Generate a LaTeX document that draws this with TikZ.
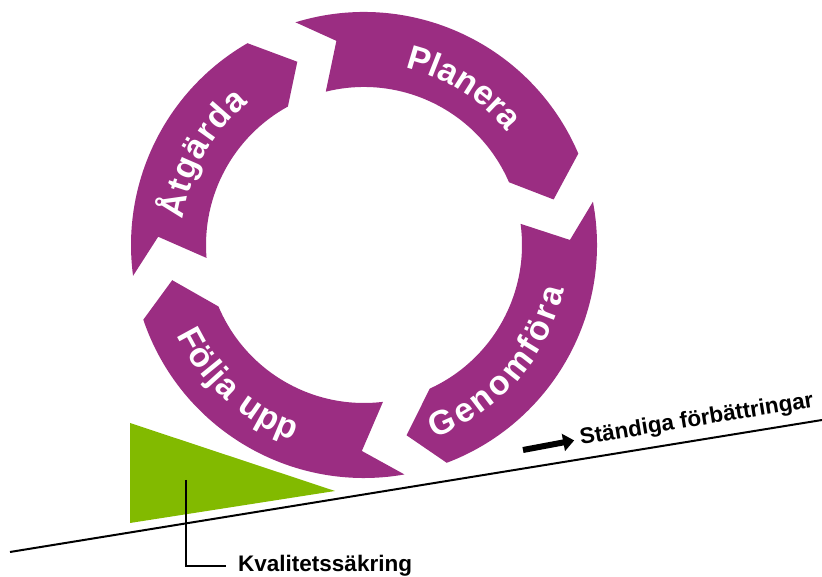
\documentclass[tikz,border=0pt]{standalone}
\usepackage{fontspec}
\setmainfont{Liberation Sans}
\usepackage{tikz}
\usetikzlibrary{arrows.meta,positioning,decorations.text}

\definecolor{pdcapurple}{RGB}{155,45,130}
\definecolor{qagreen}{RGB}{130,186,0}
\newcommand{\wheelfont}{\fontsize{34}{40}\selectfont\bfseries}

\begin{document}
\begin{tikzpicture}[x=1pt, y=1pt,
    part/.style={fill=pdcapurple},
    ringtext/.style={decorate, decoration={text along path, text align={fit to path},
      text color=white, text={|\wheelfont|#1}}},
    base/.style={line width=2pt, black},
    label/.style={font=\fontsize{22.5}{26}\selectfont\bfseries, inner sep=0pt},
    bigarr/.style={line width=6pt, -{Triangle[length=11pt, width=17pt]}}
  ]
    \useasboundingbox (0,0) rectangle (822,577);

    \begin{scope}[shift={(364,332)}]
      % Planera
      \fill[part] (107.1:233) arc[start angle=107.1, end angle=23.1, radius=233]
        -- (13.5:195) -- (23.4:158) arc[start angle=23.4, end angle=104, radius=158]
        -- (97.7:206) -- cycle;
      % Genomföra
      \fill[part] (10.7:233) arc[start angle=10.7, end angle=-69.2, radius=233]
        -- (-77.4:195) -- (-65.4:158) arc[start angle=-65.4, end angle=7.7, radius=158]
        -- (1.4:206) -- cycle;
      % Följa upp
      \fill[part] (280:233) arc[start angle=280, end angle=198.7, radius=233]
        -- (190.4:195) -- (202.9:158) arc[start angle=202.9, end angle=276.9, radius=158]
        -- (269.4:206) -- cycle;
      % Åtgärda
      \fill[part] (187.6:233) arc[start angle=187.6, end angle=120, radius=233]
        -- (110:195) -- (118.8:158) arc[start angle=118.8, end angle=184.7, radius=158]
        -- (177.7:206) -- cycle;

      \path[ringtext=Planera] (77:182) arc[start angle=77, end angle=38.5, radius=182];
      \path[ringtext=Genomföra] (-70:205) arc[start angle=-70, end angle=-12.5, radius=205];
      \path[ringtext=Följa upp] (205.7:208) arc[start angle=205.7, end angle=250.1, radius=208];
      \path[ringtext=Åtgärda] (172:183) arc[start angle=172, end angle=129, radius=183];
    \end{scope}

    \fill[qagreen] (130,154) -- (130,54) -- (335,86) -- cycle;

    \coordinate (bl) at (10,25);
    \coordinate (br) at (822,157);
    \draw[base] (bl) -- (br);

    \node[label, anchor=base west] (qa) at (238,5) {Kvalitetssäkring};
    \coordinate (qtop) at (186,97);
    \draw[base] (qtop) |- ([xshift=-12pt]qa.west);

    \node[label, anchor=base west, rotate=9.3] (ci) at (581,132) {Ständiga förbättringar};
    \coordinate (ast) at (523,127);
    \draw[bigarr, shorten >=6pt] (ast) -- (ci.west);
  \end{tikzpicture}
\end{document}
